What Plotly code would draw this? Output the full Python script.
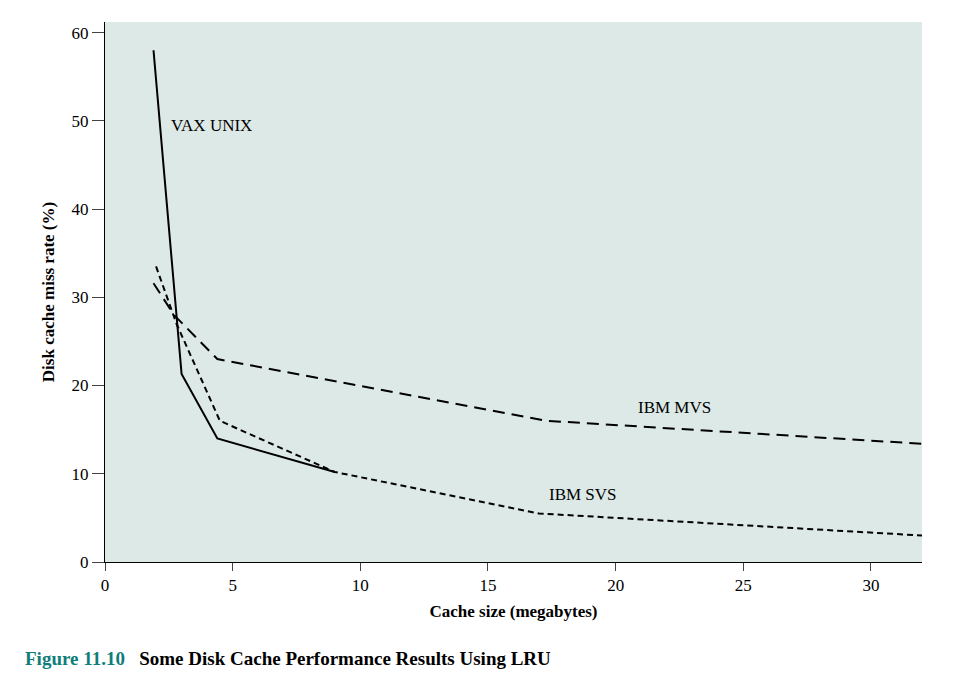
import plotly.graph_objects as go

vax_x = [1.9, 3.0, 4.4, 9.0]
vax_y = [58, 21.3, 14, 10.2]
svs_x = [2.0, 2.8, 4.5, 9.0, 17.0, 32.0]
svs_y = [33.5, 27, 16, 10.2, 5.5, 3.0]
mvs_x = [1.9, 2.7, 4.4, 17.3, 32.0]
mvs_y = [31.6, 28, 23, 16, 13.4]

font = "Liberation Serif"
fig = go.Figure()
fig.add_trace(go.Scatter(x=vax_x, y=vax_y, mode="lines", line=dict(color="black", width=2)))
fig.add_trace(go.Scatter(x=svs_x, y=svs_y, mode="lines", line=dict(color="black", width=2, dash="6px,4px")))
fig.add_trace(go.Scatter(x=mvs_x, y=mvs_y, mode="lines", line=dict(color="black", width=2, dash="12px,7px")))

fig.add_annotation(x=2.5, y=49.5, text="VAX UNIX", showarrow=False, xanchor="left", font=dict(family=font, size=17, color="black"))
fig.add_annotation(x=20.8, y=17.5, text="IBM MVS", showarrow=False, xanchor="left", font=dict(family=font, size=17, color="black"))
fig.add_annotation(x=17.3, y=7.7, text="IBM SVS", showarrow=False, xanchor="left", font=dict(family=font, size=17, color="black"))

fig.add_annotation(xref="paper", yref="paper", x=-0.1, y=-0.155, xanchor="left", yanchor="top", showarrow=False,
    text="<b><span style='color:#0f7d7a'>Figure 11.10</span>&nbsp;&nbsp;&nbsp;Some Disk Cache Performance Results Using LRU</b>",
    font=dict(family=font, size=19, color="black"))

fig.update_layout(
    width=970, height=686, showlegend=False,
    margin=dict(l=97, r=56, t=14, b=132),
    paper_bgcolor="white", plot_bgcolor="#dde9e6",
    font=dict(family=font, size=17, color="black"),
    xaxis=dict(range=[0, 32], tickvals=[0, 5, 10, 15, 20, 25, 30], showgrid=False, zeroline=False,
               showline=True, linecolor="black", ticks="outside", ticklen=8,
               title=dict(text="<b>Cache size (megabytes)</b>", font=dict(size=17), standoff=10)),
    yaxis=dict(range=[0, 61.2], tickvals=[0, 10, 20, 30, 40, 50, 60], showgrid=False, zeroline=False,
               showline=True, linecolor="black", ticks="outside", ticklen=12,
               title=dict(text="<b>Disk cache miss rate (%)</b>", font=dict(size=17), standoff=12)),
)
fig.write_html("out.html")
